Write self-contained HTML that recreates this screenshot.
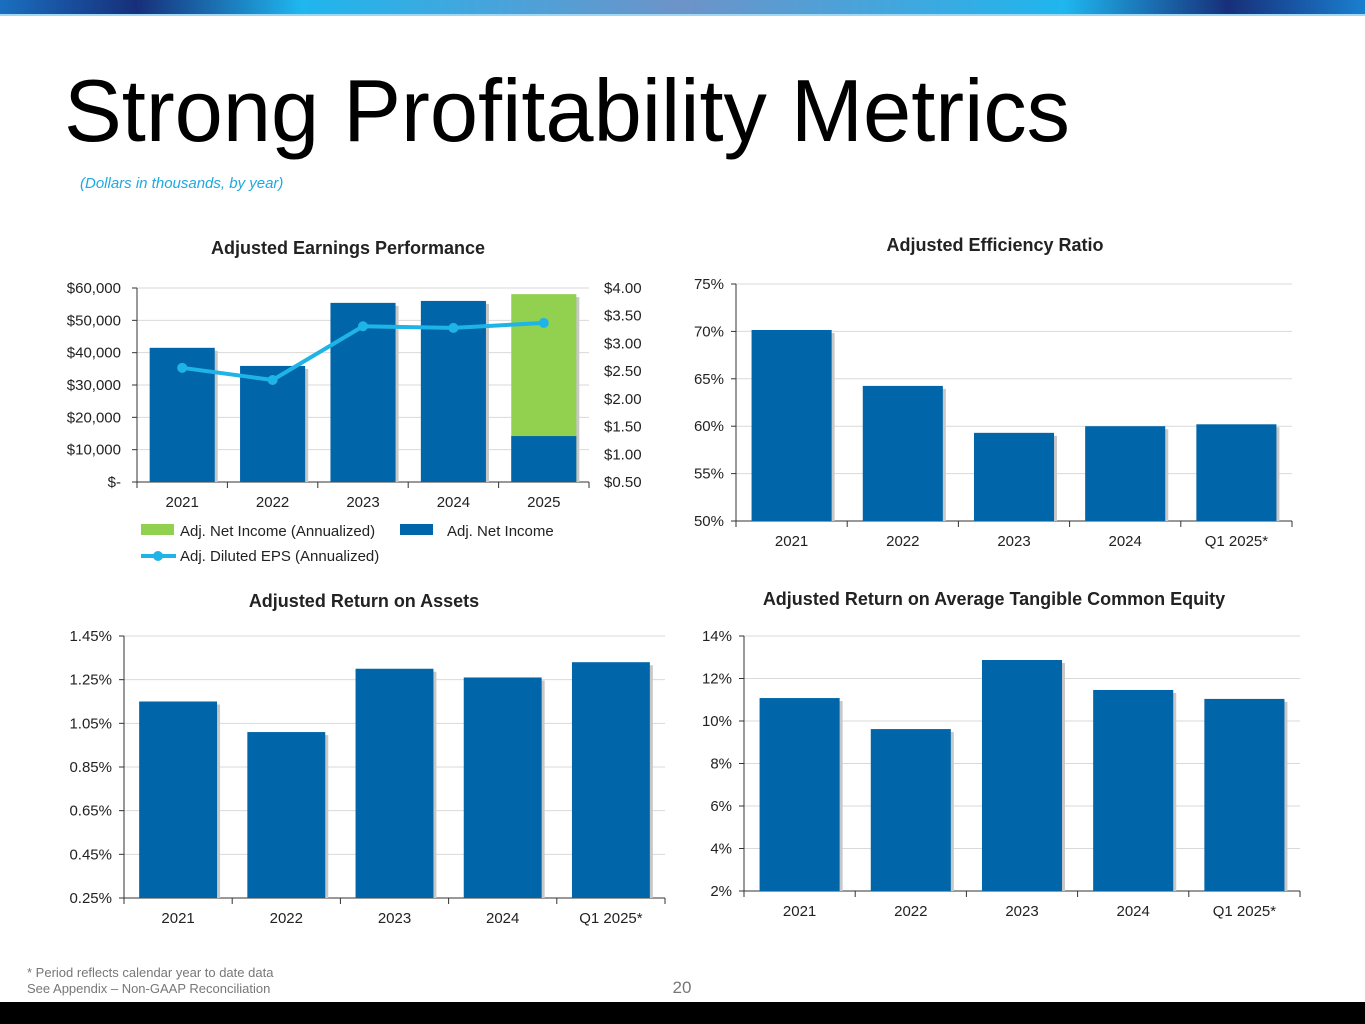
<!DOCTYPE html>
<html><head><meta charset="utf-8"><style>
html,body{margin:0;padding:0;background:#fff;width:1365px;height:1024px;overflow:hidden}
svg text{font-family:"Liberation Sans",sans-serif}
</style></head><body>
<svg id="page" width="1365" height="1024" viewBox="0 0 1365 1024" xmlns="http://www.w3.org/2000/svg">
<defs>
<linearGradient id="topg" x1="0" x2="1" y1="0" y2="0">
<stop offset="0" stop-color="#1a6fc0"/><stop offset="0.1" stop-color="#172f7a"/><stop offset="0.22" stop-color="#1fb6ee"/>
<stop offset="0.5" stop-color="#6d93c8"/><stop offset="0.78" stop-color="#1fb6ee"/><stop offset="0.9" stop-color="#172f7a"/><stop offset="1" stop-color="#1a7fd0"/>
</linearGradient>
</defs>
<rect x="0" y="0" width="1365" height="15" fill="url(#topg)"/>
<rect x="0" y="14" width="1365" height="2" fill="#9fd8f5"/>
<text x="64" y="141" font-size="88" fill="#000" textLength="1006" lengthAdjust="spacingAndGlyphs">Strong Profitability Metrics</text>
<text x="80" y="188" font-size="15" font-style="italic" fill="#1fa8e0">(Dollars in thousands, by year)</text>
<text x="27" y="977" font-size="13" fill="#777">* Period reflects calendar year to date data</text>
<text x="27" y="993" font-size="13" fill="#777">See Appendix – Non-GAAP Reconciliation</text>
<text x="682" y="993" font-size="17" fill="#777" text-anchor="middle">20</text>
<rect x="0" y="1002" width="1365" height="22" fill="#000"/>
<g id="charts"></g>
</svg>
<script>
const earnYears = ['2021','2022','2023','2024','2025'];
const netIncome = [41500, 35900, 55400, 56000, 14200];
const netIncomeAnnualized = [null, null, null, null, 58100];
const epsValues = [2.56, 2.34, 3.31, 3.28, 3.37];
const earnLeftTicks = [0,10000,20000,30000,40000,50000,60000];
const earnLeftLabels = ['$-','$10,000','$20,000','$30,000','$40,000','$50,000','$60,000'];
const earnRightTicks = [0.5,1,1.5,2,2.5,3,3.5,4];

const cats = ['2021','2022','2023','2024','Q1 2025*'];
const effValues = [70.15, 64.25, 59.3, 60.0, 60.2];
const effTicks = [50,55,60,65,70,75];
const roaValues = [1.15, 1.01, 1.30, 1.26, 1.33];
const roaTicks = [0.25,0.45,0.65,0.85,1.05,1.25,1.45];
const rotceValues = [11.08, 9.62, 12.87, 11.46, 11.04];
const rotceTicks = [2,4,6,8,10,12,14];

const NS='http://www.w3.org/2000/svg';
const root=document.getElementById('charts');
function el(tag,attrs,parent,text){const e=document.createElementNS(NS,tag);for(const k in attrs)e.setAttribute(k,attrs[k]);if(text!==undefined)e.textContent=text;(parent||root).appendChild(e);return e;}

function barChart(cfg){
  const g=el('g',{});
  
  
  const {x0,x1,yTop,yBot,min,max}=cfg;
  const yS=v=>yBot-(v-min)/(max-min)*(yBot-yTop);
  const cw=(x1-x0)/cfg.cats.length;
  const t=el('text',{x:cfg.titleX,y:cfg.titleY,'font-size':18,'font-weight':'bold','text-anchor':'middle',fill:'#222'},g,cfg.title);
  
  
  cfg.ticks.forEach((v,i)=>{
    const y=yS(v);
    if(i>0){const gl=el('line',{x1:x0,x2:x1,y1:y,y2:y,stroke:'#d9d9d9','stroke-width':1},g);
      
      }
    el('line',{x1:x0-5,x2:x0,y1:y,y2:y,stroke:'#333'},g);
    const lb=el('text',{x:x0-12,y:y+5,'font-size':15,'text-anchor':'end',fill:'#222'},g,cfg.fmt(v,i));
    
    
  });
  el('line',{x1:x0,x2:x0,y1:yTop,y2:yBot,stroke:'#333'},g);
  el('line',{x1:x0,x2:x1,y1:yBot,y2:yBot,stroke:'#333'},g);
  cfg.cats.forEach((c,i)=>{
    const xc=x0+cw*(i+0.5);
    el('line',{x1:x0+cw*(i+1),x2:x0+cw*(i+1),y1:yBot,y2:yBot+6,stroke:'#333'},g);
    el('line',{x1:x0,x2:x0,y1:yBot,y2:yBot+6,stroke:'#333'},g);
    const bw=cw*0.72;
    const v=cfg.values[i];
    el('rect',{x:xc-bw/2+3,y:yS(v)+3,width:bw,height:yBot-yS(v)-3,fill:'#c8c8c8'},g);
    const b=el('rect',{x:xc-bw/2,y:yS(v),width:bw,height:yBot-yS(v),fill:'#0065a9'},g);
    
    
    const xl=el('text',{x:xc,y:yBot+25,'font-size':15,'text-anchor':'middle',fill:'#222'},g,c);
    
    
  });
}

// Chart 1: earnings
(function(){
  const g=el('g',{});
  
  
  const x0=137,x1=589,yTop=288,yBot=482;
  const yL=v=>yBot-v/60000*(yBot-yTop);
  const yR=v=>yBot-(v-0.5)/3.5*(yBot-yTop);
  const cw=(x1-x0)/earnYears.length;
  const t=el('text',{x:348,y:254,'font-size':18,'font-weight':'bold','text-anchor':'middle',fill:'#222'},g,'Adjusted Earnings Performance');
  
  
  earnLeftTicks.forEach((v,i)=>{
    const y=yL(v);
    if(i>0){const gl=el('line',{x1:x0,x2:x1,y1:y,y2:y,stroke:'#d9d9d9'},g);
      
      }
    el('line',{x1:x0-5,x2:x0,y1:y,y2:y,stroke:'#333'},g);
    const lb=el('text',{x:x0-16,y:y+5,'font-size':15,'text-anchor':'end',fill:'#222'},g,earnLeftLabels[i]);
    
    
  });
  earnRightTicks.forEach(v=>{
    const lb=el('text',{x:604,y:yR(v)+5,'font-size':15,fill:'#222'},g,'$'+v.toFixed(2));
    
    
  });
  el('line',{x1:x0,x2:x0,y1:yTop,y2:yBot,stroke:'#333'},g);
  el('line',{x1:x0,x2:x1,y1:yBot,y2:yBot,stroke:'#333'},g);
  earnYears.forEach((c,i)=>{
    const xc=x0+cw*(i+0.5), bw=cw*0.72;
    el('line',{x1:x0+cw*(i+1),x2:x0+cw*(i+1),y1:yBot,y2:yBot+6,stroke:'#333'},g);
    const tot=netIncomeAnnualized[i]!=null?netIncomeAnnualized[i]:netIncome[i];
    el('rect',{x:xc-bw/2+3,y:yL(tot)+3,width:bw,height:yBot-yL(tot)-3,fill:'#c8c8c8'},g);
    if(netIncomeAnnualized[i]!=null){
      const a=el('rect',{x:xc-bw/2,y:yL(netIncomeAnnualized[i]),width:bw,height:yBot-yL(netIncomeAnnualized[i]),fill:'#92d050'},g);
      
      
    }
    const b=el('rect',{x:xc-bw/2,y:yL(netIncome[i]),width:bw,height:yBot-yL(netIncome[i]),fill:'#0065a9'},g);
    
    
    const xl=el('text',{x:xc,y:yBot+25,'font-size':15,'text-anchor':'middle',fill:'#222'},g,c);
    
    
  });
  el('line',{x1:x0,x2:x0,y1:yBot,y2:yBot+6,stroke:'#333'},g);
  const pts=epsValues.map((v,i)=>[x0+cw*(i+0.5),yR(v)]);
  const pl=el('polyline',{points:pts.map(p=>p.join(',')).join(' '),fill:'none',stroke:'#1fb4e8','stroke-width':4},g);
  
  
  pts.forEach(p=>{const c=el('circle',{cx:p[0],cy:p[1],r:5,fill:'#1fb4e8'},g);
    
    });
  // legend
  el('rect',{x:141,y:524,width:33,height:11,fill:'#92d050'},g);
  const l1=el('text',{x:180,y:536,'font-size':15,fill:'#222'},g,'Adj. Net Income (Annualized)');
  
  
  el('rect',{x:400,y:524,width:33,height:11,fill:'#0065a9'},g);
  const l2=el('text',{x:447,y:536,'font-size':15,fill:'#222'},g,'Adj. Net Income');
  
  
  el('line',{x1:141,x2:176,y1:556,y2:556,stroke:'#1fb4e8','stroke-width':4},g);
  el('circle',{cx:158,cy:556,r:5,fill:'#1fb4e8'},g);
  const l3=el('text',{x:180,y:561,'font-size':15,fill:'#222'},g,'Adj. Diluted EPS (Annualized)');
  
  
})();

barChart({name:'efficiency-ratio-chart',title:'Adjusted Efficiency Ratio',titleX:995,titleY:251,x0:736,x1:1292,yTop:284,yBot:521,min:50,max:75,ticks:effTicks,cats:cats,values:effValues,fmt:v=>v+'%'});
barChart({name:'return-on-assets-chart',title:'Adjusted Return on Assets',titleX:364,titleY:607,x0:124,x1:665,yTop:636,yBot:898,min:0.25,max:1.45,ticks:roaTicks,cats:cats,values:roaValues,fmt:v=>v.toFixed(2)+'%'});
barChart({name:'rotce-chart',title:'Adjusted Return on Average Tangible Common Equity',titleX:994,titleY:605,x0:744,x1:1300,yTop:636,yBot:891,min:2,max:14,ticks:rotceTicks,cats:cats,values:rotceValues,fmt:v=>v+'%'});
</script>
</body></html>
